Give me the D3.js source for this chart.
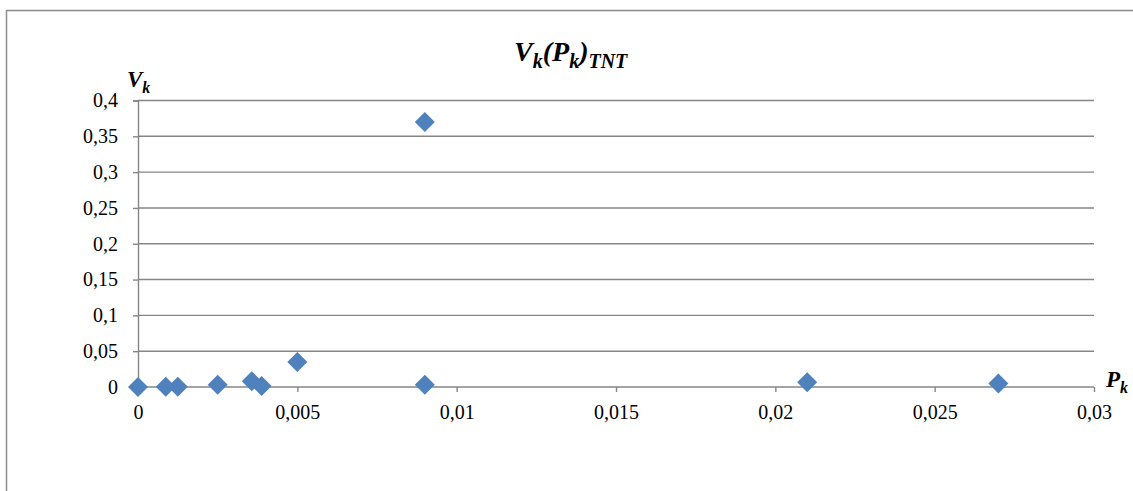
<!DOCTYPE html>
<html>
<head>
<meta charset="utf-8">
<script src="https://cdn.jsdelivr.net/npm/d3@7"></script>
<style>
  html, body { margin: 0; padding: 0; background: #fff; }
  svg { display: block; }
  text { font-family: "Liberation Serif", "Times New Roman", serif; fill: #000; }
</style>
</head>
<body>
<svg id="chart" width="1133" height="491"></svg>
<script>
// Data
const pValues = [0, 0.00087, 0.00125, 0.0025, 0.00357, 0.00388, 0.005, 0.009, 0.009, 0.021, 0.027];
const vValues = [0, 0.0002, 0.0002, 0.003, 0.008, 0.0015, 0.035, 0.37, 0.003, 0.0065, 0.005];
const xTicks = [0, 0.005, 0.01, 0.015, 0.02, 0.025, 0.03];
const yTicks = [0, 0.05, 0.1, 0.15, 0.2, 0.25, 0.3, 0.35, 0.4];

const svg = d3.select("#chart");
const fmt = d => String(d).replace(".", ",");
const serif = '"Liberation Serif", "Times New Roman", serif';

const x = d3.scaleLinear().domain([0, 0.03]).range([138, 1094]);
const y = d3.scaleLinear().domain([0, 0.4]).range([387, 100.5]);
const gridColor = "#868686";

// Outer chart border (partially cropped)
svg.append("rect")
  .attr("x", 6.5).attr("y", 10.5)
  .attr("width", 1140).attr("height", 500)
  .attr("fill", "none").attr("stroke", "#8c8c8c").attr("stroke-width", 1.5);

// Horizontal gridlines
svg.append("g").selectAll("line").data(yTicks.filter(d => d > 0)).join("line")
  .attr("x1", x(0)).attr("x2", x(0.03))
  .attr("y1", d => y(d)).attr("y2", d => y(d))
  .attr("stroke", gridColor).attr("stroke-width", 1.4);

// Y axis
const yAxis = d3.axisLeft(y).tickValues(yTicks).tickFormat(fmt).tickSize(5).tickPadding(15);
const gy = svg.append("g").attr("transform", `translate(${x(0)},0)`).call(yAxis);
gy.attr("font-family", null).attr("font-size", null);
gy.select(".domain").attr("stroke", gridColor).attr("stroke-width", 1.4);
gy.selectAll(".tick line").attr("stroke", gridColor).attr("stroke-width", 1.4);
gy.selectAll(".tick text").style("font-size", "20px").style("font-family", serif).attr("fill", "#000");

// X axis
const xAxis = d3.axisBottom(x).tickValues(xTicks).tickFormat(fmt).tickSize(5).tickPadding(13);
const gx = svg.append("g").attr("transform", `translate(0,${y(0)})`).call(xAxis);
gx.attr("font-family", null).attr("font-size", null);
gx.select(".domain").attr("stroke", gridColor).attr("stroke-width", 1.4)
  .attr("d", `M${x(0)},0H${x(0.03)}`);
gx.selectAll(".tick line").attr("stroke", gridColor).attr("stroke-width", 1.4);
gx.selectAll(".tick text").style("font-size", "20px").style("font-family", serif).attr("fill", "#000");

// Points (diamonds)
const r = 10;
svg.append("g").selectAll("path").data(pValues.map((p, i) => [p, vValues[i]])).join("path")
  .attr("d", d => {
    const cx = x(d[0]), cy = y(d[1]);
    return `M${cx},${cy - r}L${cx + r},${cy}L${cx},${cy + r}L${cx - r},${cy}Z`;
  })
  .attr("fill", "#4f81bd");

// Title
const title = svg.append("text").attr("x", 514).attr("y", 61)
  .style("font-size", "28px").style("font-weight", "bold").style("font-style", "italic");
title.append("tspan").text("V");
title.append("tspan").style("font-size", "20px").attr("dy", 7).text("k");
title.append("tspan").attr("dy", -7).text("(P");
title.append("tspan").style("font-size", "20px").attr("dy", 7).text("k");
title.append("tspan").attr("dy", -7).text(")");
title.append("tspan").style("font-size", "20px").attr("dy", 7).text("TNT");

// Y axis label
const yl = svg.append("text").attr("x", 127).attr("y", 87)
  .style("font-size", "23px").style("font-weight", "bold").style("font-style", "italic");
yl.append("tspan").text("V");
yl.append("tspan").style("font-size", "16px").attr("dy", 6).text("k");

// X axis label
const xl = svg.append("text").attr("x", 1106).attr("y", 387)
  .style("font-size", "23px").style("font-weight", "bold").style("font-style", "italic");
xl.append("tspan").text("P");
xl.append("tspan").style("font-size", "16px").attr("dy", 6).text("k");
</script>
</body>
</html>
